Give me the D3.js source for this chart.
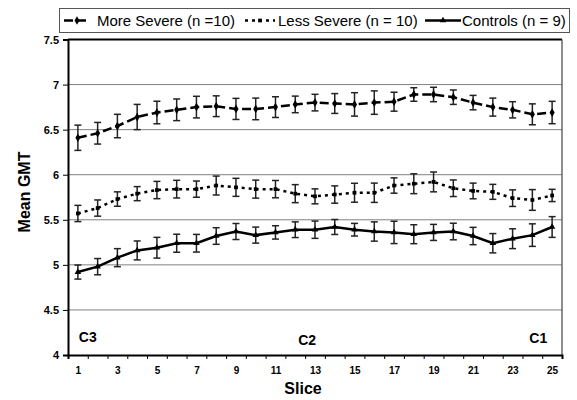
<!DOCTYPE html>
<html>
<head>
    <meta charset="utf-8" />
    <title>Mean GMT by slice</title>
    <script src="https://d3js.org/d3.v7.min.js"></script>
    <style>
        body { margin: 0; background: #fff; }
        svg text { font-family: "Liberation Sans", Arial, sans-serif; }
    </style>
</head>
<body>
    <svg id="chart" width="577" height="400"></svg>

    <script>

        var slices = d3.range(1, 26);
        var xLabels = [1, 3, 5, 7, 9, 11, 13, 15, 17, 19, 21, 23, 25];
        var yTicks = [4, 4.5, 5, 5.5, 6, 6.5, 7, 7.5];

        var moreSevere = [6.41, 6.46, 6.54, 6.64, 6.69, 6.72, 6.75, 6.76, 6.73, 6.73, 6.75, 6.78, 6.80,
            6.79, 6.78, 6.80, 6.81, 6.89, 6.89, 6.86, 6.80, 6.75, 6.72, 6.67, 6.69];
        var moreSevereErr = [0.14, 0.12, 0.13, 0.14, 0.125, 0.12, 0.12, 0.115, 0.117, 0.12, 0.115, 0.092, 0.092,
            0.11, 0.13, 0.13, 0.105, 0.075, 0.08, 0.08, 0.08, 0.1, 0.09, 0.116, 0.124];

        var lessSevere = [5.57, 5.63, 5.73, 5.79, 5.83, 5.84, 5.84, 5.88, 5.86, 5.84, 5.84, 5.79, 5.76,
            5.78, 5.80, 5.80, 5.88, 5.90, 5.92, 5.85, 5.82, 5.81, 5.74, 5.72, 5.77];
        var lessSevereErr = [0.09, 0.09, 0.08, 0.078, 0.096, 0.098, 0.09, 0.105, 0.1, 0.1, 0.096, 0.1, 0.083,
            0.096, 0.105, 0.107, 0.085, 0.11, 0.11, 0.092, 0.087, 0.083, 0.092, 0.115, 0.068];

        var controls = [4.92, 4.98, 5.08, 5.16, 5.19, 5.24, 5.24, 5.32, 5.37, 5.33, 5.36, 5.39, 5.39,
            5.42, 5.39, 5.37, 5.36, 5.34, 5.36, 5.37, 5.32, 5.24, 5.29, 5.33, 5.42];
        var controlsErr = [0.078, 0.09, 0.1, 0.105, 0.115, 0.1, 0.098, 0.092, 0.089, 0.089, 0.074, 0.087, 0.096,
            0.083, 0.07, 0.107, 0.124, 0.105, 0.089, 0.092, 0.096, 0.107, 0.11, 0.125, 0.115];

        var series = [
            { name: "More Severe (n =10)", values: moreSevere, err: moreSevereErr, dash: "9,4", marker: d3.symbolDiamond, size: 22 },
            { name: "Less Severe (n = 10)", values: lessSevere, err: lessSevereErr, dash: "3,4", marker: d3.symbolSquare, size: 14 },
            { name: "Controls (n = 9)", values: controls, err: controlsErr, dash: null, marker: d3.symbolTriangle, size: 18 }
        ];

        var plotLeft = 68, plotRight = 562, plotTop = 39.5, plotBottom = 355;

        var svg = d3.select("#chart");

        var x = d3.scaleLinear().domain([0.5, 25.5]).range([plotLeft, plotRight]);
        var y = d3.scaleLinear().domain([4, 7.5]).range([plotBottom, plotTop]);

        //gridlines
        svg.append("g")
            .selectAll("line")
            .data(yTicks.slice(1, -1))
            .enter().append("line")
            .attr("x1", plotLeft).attr("x2", plotRight)
            .attr("y1", function (d) { return y(d); })
            .attr("y2", function (d) { return y(d); })
            .attr("stroke", "#808080")
            .attr("stroke-width", 1);

        //plot border: top and right
        svg.append("line")
            .attr("x1", plotLeft).attr("x2", plotRight).attr("y1", plotTop).attr("y2", plotTop)
            .attr("stroke", "#000").attr("stroke-width", 2);
        svg.append("line")
            .attr("x1", plotRight).attr("x2", plotRight).attr("y1", plotTop).attr("y2", plotBottom)
            .attr("stroke", "#444").attr("stroke-width", 1.2);

        //y axis
        var yAxis = svg.append("g")
            .attr("transform", "translate(" + plotLeft + ",0)")
            .call(d3.axisLeft(y).tickValues(yTicks).tickSize(5).tickPadding(4)
                .tickFormat(function (d) { return d3.format("")(d); }));
        yAxis.select(".domain").attr("stroke-width", 2);
        yAxis.selectAll("text").attr("font-size", 11).attr("font-weight", "bold")
            .attr("font-family", "Liberation Sans, Arial, sans-serif");

        //x axis: ticks on category boundaries, labels on odd slices
        var xTickAxis = svg.append("g")
            .attr("transform", "translate(0," + plotBottom + ")")
            .call(d3.axisBottom(x).tickValues(d3.range(0.5, 26, 1)).tickSize(4).tickFormat(""));
        xTickAxis.select(".domain").attr("stroke-width", 2);

        var xLabelAxis = svg.append("g")
            .attr("transform", "translate(0," + plotBottom + ")")
            .call(d3.axisBottom(x).tickValues(xLabels).tickSize(0).tickPadding(12));
        xLabelAxis.select(".domain").remove();
        xLabelAxis.selectAll("text").attr("font-size", 10).attr("font-weight", "bold")
            .attr("font-family", "Liberation Sans, Arial, sans-serif");

        //axis titles
        svg.append("text")
            .attr("x", 303).attr("y", 394)
            .attr("text-anchor", "middle")
            .attr("font-size", 16).attr("font-weight", "bold")
            .text("Slice");

        svg.append("text")
            .attr("transform", "translate(30,192) rotate(-90)")
            .attr("text-anchor", "middle")
            .attr("font-size", 16).attr("font-weight", "bold")
            .text("Mean GMT");

        //region labels
        var regions = [
            { label: "C3", slice: 1.5, value: 4.14 },
            { label: "C2", slice: 12.6, value: 4.11 },
            { label: "C1", slice: 24.3, value: 4.13 }
        ];
        svg.append("g")
            .selectAll("text")
            .data(regions)
            .enter().append("text")
            .attr("x", function (d) { return x(d.slice); })
            .attr("y", function (d) { return y(d.value); })
            .attr("text-anchor", "middle")
            .attr("font-size", 14).attr("font-weight", "bold")
            .text(function (d) { return d.label; });

        var line = d3.line()
            .x(function (d, i) { return x(slices[i]); })
            .y(function (d) { return y(d); });

        series.forEach(function (s) {
            var g = svg.append("g");

            //error bars
            var bars = g.selectAll(".err")
                .data(s.values)
                .enter().append("g")
                .attr("class", "err");
            bars.append("line")
                .attr("x1", function (d, i) { return x(slices[i]); })
                .attr("x2", function (d, i) { return x(slices[i]); })
                .attr("y1", function (d, i) { return y(d - s.err[i]); })
                .attr("y2", function (d, i) { return y(d + s.err[i]); });
            bars.append("line")
                .attr("x1", function (d, i) { return x(slices[i]) - 3.5; })
                .attr("x2", function (d, i) { return x(slices[i]) + 3.5; })
                .attr("y1", function (d, i) { return y(d + s.err[i]); })
                .attr("y2", function (d, i) { return y(d + s.err[i]); });
            bars.append("line")
                .attr("x1", function (d, i) { return x(slices[i]) - 3.5; })
                .attr("x2", function (d, i) { return x(slices[i]) + 3.5; })
                .attr("y1", function (d, i) { return y(d - s.err[i]); })
                .attr("y2", function (d, i) { return y(d - s.err[i]); });
            bars.selectAll("line").attr("stroke", "#222").attr("stroke-width", 1.5);

            g.append("path")
                .datum(s.values)
                .attr("d", line)
                .attr("fill", "none")
                .attr("stroke", "#000")
                .attr("stroke-width", 2.5)
                .attr("stroke-dasharray", s.dash);

            g.selectAll(".pt")
                .data(s.values)
                .enter().append("path")
                .attr("class", "pt")
                .attr("transform", function (d, i) { return "translate(" + x(slices[i]) + "," + y(d) + ")"; })
                .attr("d", d3.symbol().type(s.marker).size(s.size))
                .attr("fill", "#000");
        });

        //legend
        var legend = svg.append("g");
        legend.append("rect")
            .attr("x", 59.5).attr("y", 8.5)
            .attr("width", 510).attr("height", 24)
            .attr("fill", "#fff")
            .attr("stroke", "#555");

        var legendPos = [
            { x1: 64, x2: 90, tx: 97 },
            { x1: 245, x2: 275, tx: 278 },
            { x1: 425, x2: 461, tx: 462 }
        ];

        series.forEach(function (s, i) {
            var p = legendPos[i];
            legend.append("line")
                .attr("x1", p.x1).attr("x2", p.x2)
                .attr("y1", 20.5).attr("y2", 20.5)
                .attr("stroke", "#000").attr("stroke-width", 2.5)
                .attr("stroke-dasharray", s.dash);
            legend.append("path")
                .attr("transform", "translate(" + (p.x1 + p.x2) / 2 + ",20.5)")
                .attr("d", d3.symbol().type(s.marker).size(s.size))
                .attr("fill", "#000");
            legend.append("text")
                .attr("x", p.tx).attr("y", 26)
                .attr("font-size", 15)
                .attr("fill", "#000")
                .text(s.name);
        });

    </script>
</body>
</html>
